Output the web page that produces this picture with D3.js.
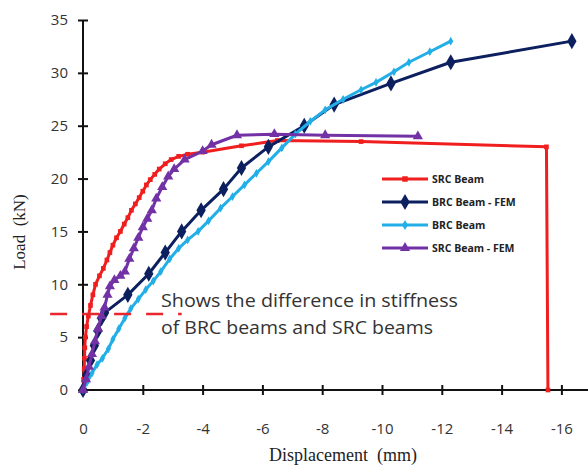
<!DOCTYPE html>
<html>
<head>
<meta charset="utf-8">
<script src="https://cdn.jsdelivr.net/npm/d3@7"></script>
<style>
body{margin:0;background:#fff;}
svg{display:block;}
</style>
</head>
<body>
<script>
// chart size
var svg_width=588;
var svg_height=473;

// tick values
var xTicks=[0,-2,-4,-6,-8,-10,-12,-14,-16];
var yTicks=[0,5,10,15,20,25,30,35];

// SRC Beam (test)
var srcX=[0,-0.02,-0.04,-0.05,-0.06,-0.08,-0.12,-0.18,-0.25,-0.33,-0.42,-0.55,-0.68,-0.8,-0.9,-1.0,-1.12,-1.25,-1.38,-1.5,-1.62,-1.75,-1.88,-2.0,-2.12,-2.25,-2.4,-2.55,-2.75,-2.95,-3.2,-3.5,-4.0,-5.3,-6.5,-9.3,-15.5,-15.55];
var srcY=[0,1,2,3,4,5,6,7,8,9,10,10.8,11.5,12.3,13,13.7,14.4,15,15.7,16.3,17,17.6,18.2,18.8,19.4,19.9,20.4,20.9,21.4,21.8,22.1,22.3,22.5,23.1,23.6,23.5,23.0,0];

// BRC Beam - FEM
var brcFemX=[0,-0.12,-0.25,-0.38,-0.5,-0.62,-0.72,-1.5,-2.2,-2.75,-3.3,-3.95,-4.7,-5.3,-6.2,-7.4,-8.4,-10.3,-12.3,-16.35];
var brcFemY=[0,1.4,2.8,4.2,5.6,6.8,7.3,9,11,13,15,17,19,21,23,25,27,29,31,33];

// BRC Beam (test)
var brcX=[0,-0.15,-0.3,-0.47,-0.65,-0.85,-1.0,-1.2,-1.4,-1.6,-1.85,-2.1,-2.35,-2.6,-2.9,-3.2,-3.5,-3.85,-4.2,-4.6,-5.0,-5.4,-5.8,-6.2,-6.65,-7.1,-7.6,-8.1,-8.7,-9.3,-9.8,-10.4,-10.9,-11.6,-12.3];
var brcY=[0,0.8,1.6,2.4,3.0,3.9,4.8,5.8,6.8,7.7,8.6,9.5,10.3,11.2,12.4,13.4,14.2,15,16,17.2,18.3,19.4,20.5,21.6,22.9,24.2,25.4,26.5,27.5,28.4,29.1,30.1,31,32,33];

// SRC Beam - FEM
var srcFemX=[0,-0.1,-0.2,-0.3,-0.4,-0.5,-0.62,-0.72,-0.82,-0.9,-1.05,-1.25,-1.4,-1.55,-1.7,-1.85,-2.0,-2.15,-2.3,-2.45,-2.65,-2.85,-3.05,-3.4,-4.0,-4.3,-5.15,-6.4,-8.1,-11.2];
var srcFemY=[0,1,2.2,3.4,4.6,5.8,7,7.8,9,9.8,10.4,10.8,11.2,12.4,13.4,14.4,15.4,16.2,17,18.1,19.2,20.2,20.9,21.8,22.6,23.2,24.1,24.2,24.1,24.0];

// annotation line (load level) and text
var noteLoad=7.2;
var noteX=[1.1,-3.3];
var noteLines=["Shows the difference in stiffness","of BRC beams and SRC beams"];

var series=[
  {name:"SRC Beam",xs:srcX,ys:srcY,color:"#f01e1e",sym:d3.symbolSquare,size:22},
  {name:"BRC Beam - FEM",xs:brcFemX,ys:brcFemY,color:"#0c1f5e",sym:d3.symbolDiamond,size:75},
  {name:"BRC Beam",xs:brcX,ys:brcY,color:"#22aee6",sym:d3.symbolDiamond,size:22},
  {name:"SRC Beam - FEM",xs:srcFemX,ys:srcFemY,color:"#7232a6",sym:d3.symbolTriangle,size:45}
];

var svg=d3.select("body").append("svg")
  .attr("width",svg_width)
  .attr("height",svg_height);

var x=d3.scaleLinear().domain([0,-17]).range([83,591.3]);
var y=d3.scaleLinear().domain([0,35]).range([390,20]);

// axes
var xAxis=svg.append("g").attr("transform","translate(0,390)")
  .call(d3.axisBottom(x).tickValues(xTicks).tickSize(0).tickPadding(0).tickFormat(d3.format("d")));
xAxis.select(".domain").remove();
xAxis.append("line").attr("x1",83).attr("x2",588).attr("stroke","#111").attr("stroke-width",2);
xAxis.selectAll(".tick").append("line").attr("y1",-5).attr("y2",5).attr("stroke","#111").attr("stroke-width",2);
xAxis.selectAll(".tick text").attr("y",33)
  .attr("font-family","'Open Sans',sans-serif").attr("font-size",15).attr("fill","#333")
  .text(function(d){return d===0?"0":"-"+Math.abs(d);});

var yAxis=svg.append("g").attr("transform","translate(83,0)")
  .call(d3.axisLeft(y).tickValues(yTicks).tickSize(0).tickPadding(0));
yAxis.select(".domain").remove();
yAxis.append("line").attr("y1",20).attr("y2",390).attr("stroke","#111").attr("stroke-width",2);
yAxis.selectAll(".tick").append("line").attr("x1",-5).attr("x2",5).attr("stroke","#111").attr("stroke-width",2);
yAxis.selectAll(".tick text").attr("x",-15)
  .attr("font-family","'Open Sans',sans-serif").attr("font-size",15).attr("fill","#333");

// axis titles
svg.append("text")
  .attr("transform","translate(25,232) rotate(-90)")
  .attr("text-anchor","middle")
  .attr("font-family","'Liberation Serif',serif").attr("font-size",17).attr("fill","#222")
  .attr("xml:space","preserve")
  .text("Load  (kN)");
svg.append("text")
  .attr("x",343).attr("y",461)
  .attr("text-anchor","middle")
  .attr("font-family","'Liberation Serif',serif").attr("font-size",18).attr("fill","#222")
  .attr("xml:space","preserve")
  .text("Displacement  (mm)");

// series
var line=d3.line().x(function(d){return x(d[0]);}).y(function(d){return y(d[1]);});

series.forEach(function(s){
  var pts=s.xs.map(function(v,i){return [v,s.ys[i]];});
  svg.append("path").datum(pts)
    .attr("d",line)
    .attr("fill","none").attr("stroke",s.color).attr("stroke-width",3)
    .attr("stroke-linejoin","round");
  svg.append("g").selectAll("path").data(pts).enter().append("path")
    .attr("transform",function(d){return "translate("+x(d[0])+","+y(d[1])+")";})
    .attr("d",d3.symbol().type(s.sym).size(s.size))
    .attr("fill",s.color);
});

// annotation
svg.append("line")
  .attr("x1",x(noteX[0])).attr("x2",x(noteX[1]))
  .attr("y1",y(noteLoad)).attr("y2",y(noteLoad))
  .attr("stroke","#e8262b").attr("stroke-width",2.5)
  .attr("stroke-dasharray","17,15");

var noteWidths=[297,272];
svg.selectAll(".note").data(noteLines).enter().append("text")
  .attr("class","note")
  .attr("x",161).attr("y",function(d,i){return 307+i*27;})
  .attr("font-family","'Open Sans',sans-serif").attr("font-size",19).attr("fill","#333")
  .attr("textLength",function(d,i){return noteWidths[i];})
  .attr("lengthAdjust","spacingAndGlyphs")
  .text(function(d){return d;});

// legend
var legend=svg.append("g").attr("transform","translate(382,179)");
var li=legend.selectAll("g").data(series).enter().append("g")
  .attr("transform",function(d,i){return "translate(0,"+(i*23)+")";});
li.append("line").attr("x1",0).attr("x2",46)
  .attr("stroke",function(d){return d.color;}).attr("stroke-width",3);
li.append("path")
  .attr("transform","translate(23,0)")
  .attr("d",function(d){return d3.symbol().type(d.sym).size(d.size===22?30:d.size)();})
  .attr("fill",function(d){return d.color;});
li.append("text").attr("x",50).attr("y",4)
  .attr("font-family","'Open Sans',sans-serif").attr("font-weight","bold")
  .attr("font-size",10.5).attr("fill","#222")
  .text(function(d){return d.name;});
</script>
</body>
</html>
